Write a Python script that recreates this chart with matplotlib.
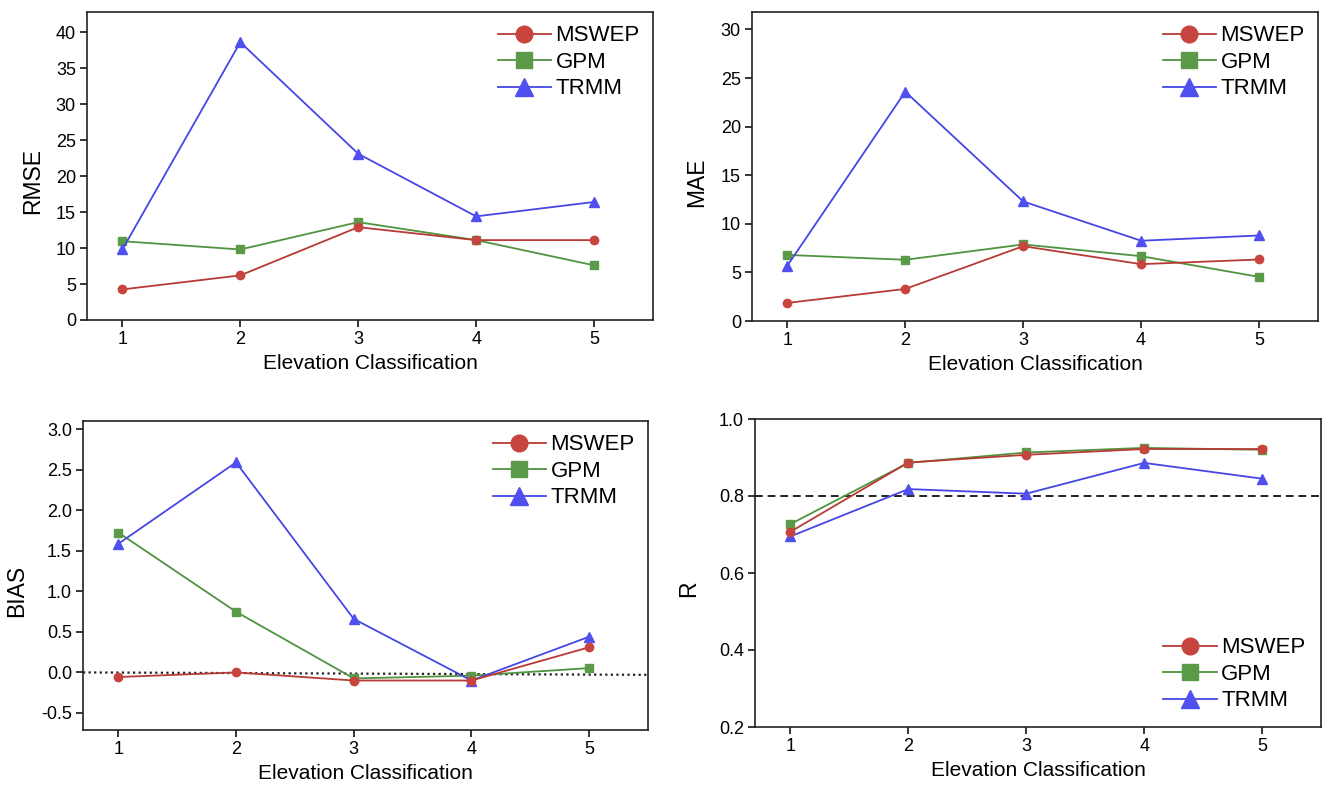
import matplotlib
matplotlib.use("Agg")
import matplotlib.pyplot as plt

plt.rcParams['font.family'] = ['Liberation Sans', 'DejaVu Sans']

categories = [1, 2, 3, 4, 5]
series_names = ["MSWEP", "GPM", "TRMM"]

rmse_mswep = [4.25, 6.2, 12.9, 11.1, 11.1]
rmse_gpm = [10.95, 9.8, 13.6, 11.1, 7.6]
rmse_trmm = [9.8, 38.6, 23.1, 14.4, 16.4]

mae_mswep = [1.86, 3.3, 7.7, 5.85, 6.33]
mae_gpm = [6.8, 6.3, 7.88, 6.67, 4.54]
mae_trmm = [5.7, 23.6, 12.3, 8.26, 8.8]

bias_mswep = [-0.057, 0.0, -0.10, -0.10, 0.31]
bias_gpm = [1.725, 0.748, -0.074, -0.04, 0.053]
bias_trmm = [1.586, 2.59, 0.66, -0.10, 0.44]

r_mswep = [0.707, 0.887, 0.907, 0.922, 0.922]
r_gpm = [0.727, 0.886, 0.913, 0.925, 0.920]
r_trmm = [0.695, 0.818, 0.806, 0.886, 0.845]

bias_ref_x = [0.7, 5.5]
bias_ref_y = [0.0, -0.03]
r_threshold = 0.8

W, H = 1322, 785
fig = plt.figure(figsize=(W / 100, H / 100), dpi=100)


def axes_px(left, top, right, bottom):
    return fig.add_axes([left / W, 1 - bottom / H, (right - left) / W, (bottom - top) / H])


line_colors = ["#b83a34", "#4f9340", "#4646e6"]
face_colors = ["#c8443e", "#5a9a48", "#5050f0"]
markers = ["o", "s", "^"]
zorders = [4, 2, 3]


def draw(ax, data, ylabel, ylim, yticks, yfmt, legend_loc, label_x, pad):
    for name, vals, lc, fc, mk, zo in zip(series_names, data, line_colors, face_colors, markers, zorders):
        ax.plot(categories, vals, color=lc, lw=1.3, marker=mk, ms=6 if mk != '^' else 6.5,
                mfc=fc, mec=fc, label=name, zorder=zo)
    ax.set_xlim(0.7, 5.5)
    ax.set_ylim(*ylim)
    ax.set_xticks(categories)
    ax.set_yticks(yticks)
    ax.set_yticklabels([yfmt.format(v) for v in yticks])
    ax.tick_params(direction='out', length=5, width=1.1, labelsize=13, top=False, right=False, pad=3)
    for s in ax.spines.values():
        s.set_linewidth(1.2)
        s.set_color("#222222")
    ax.set_xlabel("Elevation Classification", fontsize=15, labelpad=4)
    ax.set_ylabel(ylabel, fontsize=16.5)
    ax.yaxis.set_label_coords(label_x, 0.45)
    handles, labels = ax.get_legend_handles_labels()
    ax.legend(handles, labels,
              loc=legend_loc, frameon=False, fontsize=16, markerscale=2.0,
              handlelength=2.4, handletextpad=0.2, labelspacing=0.25,
              borderaxespad=pad)
    return ax


ax1 = axes_px(87, 12, 653, 320)
draw(ax1, [rmse_mswep, rmse_gpm, rmse_trmm], "RMSE", (0, 42.8), list(range(0, 41, 5)), "{:d}",
     "upper right", -0.076, 0.2)

ax2 = axes_px(752, 12, 1318, 321)
draw(ax2, [mae_mswep, mae_gpm, mae_trmm], "MAE", (0, 31.8), list(range(0, 31, 5)), "{:d}",
     "upper right", -0.078, 0.2)

ax3 = axes_px(83, 421, 648, 730)
draw(ax3, [bias_mswep, bias_gpm, bias_trmm], "BIAS", (-0.71, 3.1),
     [-0.5, 0.0, 0.5, 1.0, 1.5, 2.0, 2.5, 3.0], "{:.1f}", "upper right", -0.097, 0.2)
ax3.plot(bias_ref_x, bias_ref_y, color="#222222", lw=1.6, ls=(0, (1, 1.5)), zorder=1)

ax4 = axes_px(755, 419, 1321, 727)
draw(ax4, [r_mswep, r_gpm, r_trmm], "R", (0.2, 1.0), [0.2, 0.4, 0.6, 0.8, 1.0], "{:.1f}",
     "lower right", -0.097, 0.3)
ax4.axhline(r_threshold, color="#222222", lw=1.4, ls=(0, (4, 2.5)), zorder=1)

fig.savefig("out.png", dpi=100)
